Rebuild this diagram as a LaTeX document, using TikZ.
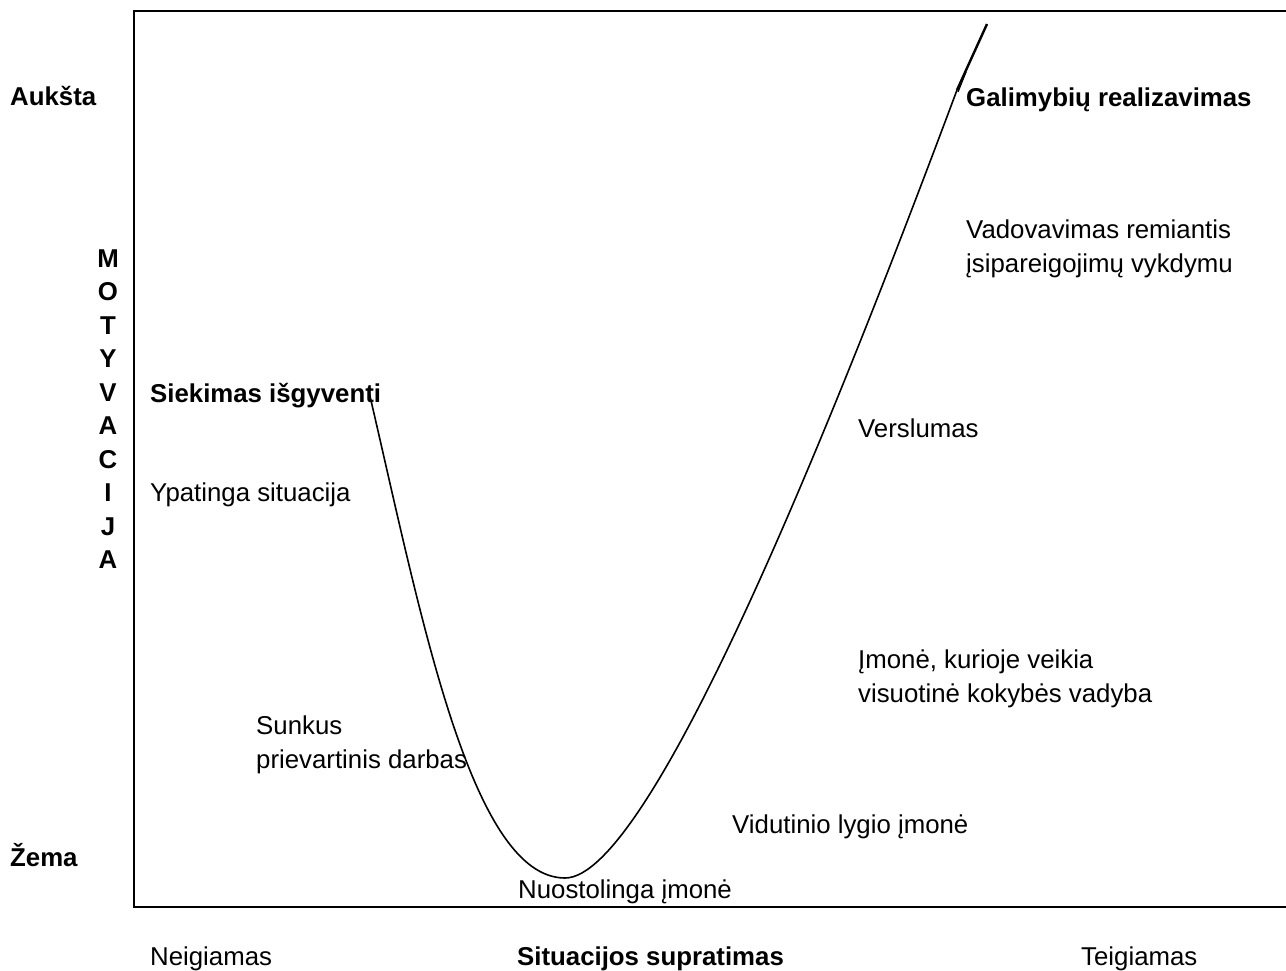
\documentclass[tikz,border=0pt]{standalone}
\usepackage{fontspec}
\setmainfont{Liberation Sans}
\begin{document}
\begin{tikzpicture}[x=1pt,y=-1pt,
  lbl/.style={anchor=base west, inner sep=0pt, align=left,
              font=\fontsize{25.8}{34}\selectfont},
  blbl/.style={lbl, font=\fontsize{25.8}{34}\selectfont\bfseries},
  letter/.style={anchor=base, inner sep=0pt,
              font=\fontsize{25.8}{34}\selectfont\bfseries},
  frame/.style={line width=2.5pt},
  curve/.style={line width=1.6pt, line join=round}]
\useasboundingbox (0,0) rectangle (1286,971);

% chart frame (open to the right)
\begin{scope}
  \clip (0,0) rectangle (1286,971);
  \draw[frame] (1330,11) -- (134,11) -- (134,907) -- (1330,907);
\end{scope}

% vertical axis: levels and title
\node[blbl] (high) at (10,106) {Aukšta};
\node[blbl] (low)  at (10,866) {Žema};
\foreach \ch [count=\i from 0] in {M,O,T,Y,V,A,C,I,J,A}
  \node[letter] (axis\i) at (108,267+33.5*\i) {\ch};

% horizontal axis
\node[lbl]  (neg)   at (150,965)  {Neigiamas};
\node[blbl] (xaxis) at (517,965)  {Situacijos supratimas};
\node[lbl]  (pos)   at (1081,965) {Teigiamas};

% motivation curve: falling branch, trough, rising branch
\coordinate (start)  at (369,392);
\coordinate (trough) at (565,878);
\coordinate (peak)   at (957,90);
\coordinate (tip)    at (987,24);
\draw[curve] (start) .. controls (420,610) and (470,878) .. (trough)
             .. controls (650,878) and (830,430) .. (peak);
\draw[line width=2.4pt] (peak) -- (tip);
\draw[line width=1.2pt] (958,92) -- (966,72);

% stages along the curve (multi-line labels are placed by their last line)
\node[blbl] (survive)  at (150,402) {Siekimas išgyventi};
\node[lbl]  (extreme)  at (150,501) {Ypatinga situacija};
\node[lbl]  (forced)   at (256,768) {Sunkus\\prievartinis darbas};
\node[lbl]  (loss)     at (518,898) {Nuostolinga įmonė};
\node[lbl]  (average)  at (732,833) {Vidutinio lygio įmonė};
\node[lbl]  (tqm)      at (858,702) {Įmonė, kurioje veikia\\visuotinė kokybės vadyba};
\node[lbl]  (enterp)   at (858,437) {Verslumas};
\node[lbl]  (commit)   at (966,272) {Vadovavimas remiantis\\įsipareigojimų vykdymu};
\node[blbl] (realize)  at (966,107) {Galimybių realizavimas};
\end{tikzpicture}
\end{document}
